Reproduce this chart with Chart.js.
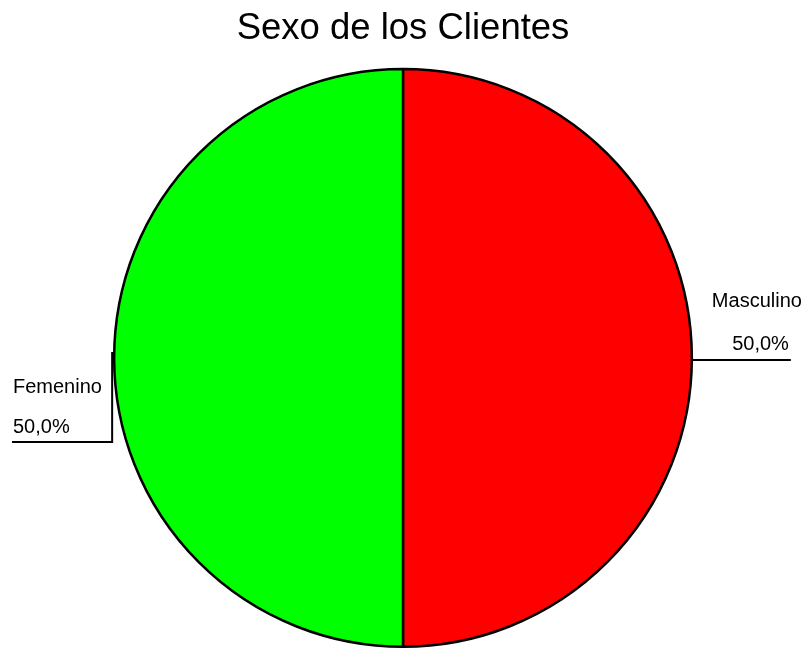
<!DOCTYPE html>
<html>
<head>
<meta charset="utf-8">
<title>Sexo de los Clientes</title>
<script src="https://cdn.jsdelivr.net/npm/chart.js@4/dist/chart.umd.min.js"></script>
<style>
    html, body { margin: 0; padding: 0; background: #fff; }
    #wrap { width: 806px; height: 649px; }
</style>
</head>
<body>
<div id="wrap"><canvas id="chart" width="806" height="649"></canvas></div>
<script>
const categories = ['Masculino', 'Femenino'];
const values = [50.0, 50.0];
const percentLabels = ['50,0%', '50,0%'];
const sliceColors = ['#ff0000', '#00ff00'];

const FONT = '"Liberation Sans", Arial, Helvetica, sans-serif';

// leader lines + two-line labels like the original export
const sliceLabels = {
    id: 'sliceLabels',
    afterDatasetsDraw(chart) {
        const ctx = chart.ctx;
        const meta = chart.getDatasetMeta(0);
        ctx.save();
        ctx.font = `20px ${FONT}`;
        ctx.fillStyle = '#000';
        ctx.strokeStyle = '#000';
        ctx.lineWidth = 2;
        ctx.textBaseline = 'alphabetic';

        meta.data.forEach((arc, i) => {
            const r = arc.outerRadius;
            const mid = (arc.startAngle + arc.endAngle) / 2;
            const right = Math.cos(mid) > 0;
            if (right) {
                const x0 = arc.x + r;
                const y0 = arc.y + 2;
                ctx.beginPath();
                ctx.moveTo(x0, y0);
                ctx.lineTo(x0 + 99, y0);
                ctx.stroke();
                ctx.textAlign = 'left';
                ctx.fillText(categories[i], x0 + 20, y0 - 53);
                ctx.textAlign = 'right';
                ctx.fillText(percentLabels[i], x0 + 97, y0 - 10);
            } else {
                const x0 = arc.x - r - 2;
                const y0 = arc.y - 6;
                const yb = arc.y + 84;
                ctx.beginPath();
                ctx.moveTo(x0, y0);
                ctx.lineTo(x0, yb);
                ctx.lineTo(12, yb);
                ctx.stroke();
                ctx.textAlign = 'left';
                ctx.fillText(categories[i], 13, yb - 49);
                ctx.fillText(percentLabels[i], 13, yb - 9);
            }
        });
        ctx.restore();
    }
};

new Chart(document.getElementById('chart'), {
    type: 'pie',
    data: {
        labels: categories,
        datasets: [{
            data: values,
            backgroundColor: sliceColors,
            borderColor: '#000',
            borderWidth: 2.5,
            hoverOffset: 0
        }]
    },
    options: {
        responsive: false,
        animation: false,
        layout: { padding: { left: 100, right: 100, top: 0, bottom: 1 } },
        plugins: {
            legend: { display: false },
            tooltip: { enabled: false },
            title: {
                display: true,
                text: 'Sexo de los Clientes',
                color: '#000',
                font: { family: FONT, size: 36.5, weight: 'normal', lineHeight: 1.2 },
                padding: { top: 7, bottom: 17 }
            }
        }
    },
    plugins: [sliceLabels]
});
</script>
</body>
</html>
